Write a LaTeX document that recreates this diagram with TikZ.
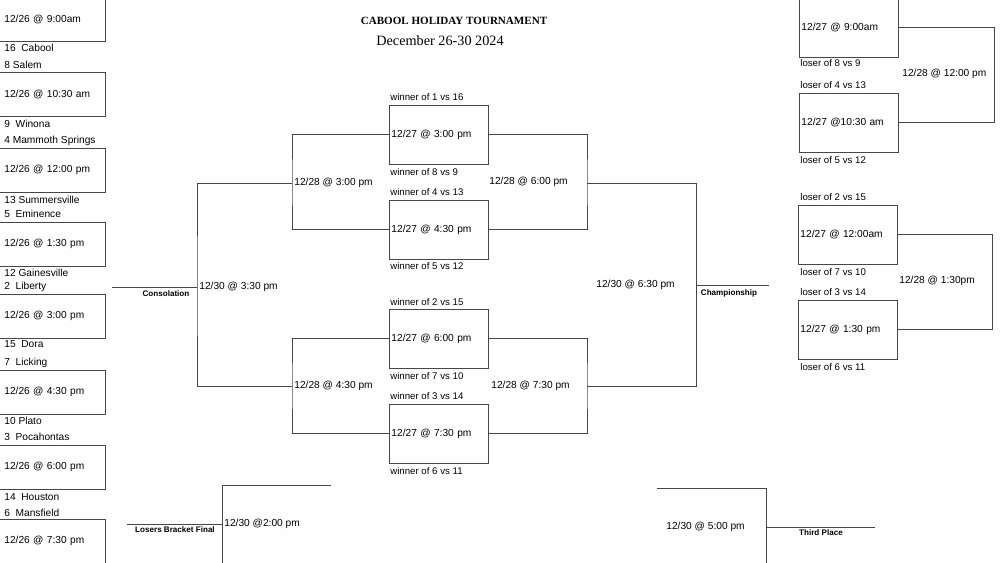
\documentclass[tikz,border=0pt]{standalone}
\usepackage{fontspec}
\setmainfont{Liberation Sans}
\newfontfamily\headfont{Liberation Serif}
\usepackage{tikz}
\usetikzlibrary{positioning}

\begin{document}
\begin{tikzpicture}[
    x=0.02cm, y=-0.02cm,
    every node/.style={inner sep=0pt, font=\fontsize{5.8}{7}\selectfont},
    line/.style={draw=black!72, line width=0.5pt},
    game/.style={line, rectangle, anchor=north west, minimum height=1.18cm, text width=1.9cm, inner xsep=0.04cm, align=left},
    seed/.style={rectangle, anchor=north west, minimum height=0.88cm, text width=1.94cm, inner xsep=0.08cm, align=left},
    team/.style={anchor=west},
    note/.style={anchor=west, font=\fontsize{5.5}{6.5}\selectfont},
    slot/.style={anchor=west, inner xsep=0.04cm},
    tag/.style={anchor=north, font=\bfseries\fontsize{4.6}{5.5}\selectfont}
]
\useasboundingbox (0,0) rectangle (1000,563);

% title
\node[font=\headfont\bfseries\fontsize{6.3}{7.5}\selectfont] (title) at (454,21) {CABOOL HOLIDAY TOURNAMENT};
\node[font=\headfont\fontsize{8.1}{9.5}\selectfont] (dates) at (440,41) {December 26-30 2024};

% first round
\node[seed] (g1) at (0,-3) {12/26 @ 9:00am};
\node[seed] (g2) at (0,72) {12/26 @ 10:30 am};
\node[seed] (g3) at (0,148) {12/26 @ 12:00 pm};
\node[seed] (g4) at (0,222) {12/26 @ 1:30 pm};
\node[seed] (g5) at (0,294) {12/26 @ 3:00 pm};
\node[seed] (g6) at (0,370) {12/26 @ 4:30 pm};
\node[seed] (g7) at (0,445) {12/26 @ 6:00 pm};
\node[seed] (g8) at (0,519) {12/26 @ 7:30 pm};
\foreach \g in {g1,g2,g3,g4,g5,g6,g7,g8}
    \draw[line] (\g.north west) -- (\g.north east) -- (\g.south east) -- (\g.south west);

\node[team] (t16) at (4,48) {16\ \ Cabool};
\node[team] (t8) at (4,65) {8 Salem};
\node[team] (t9) at (4,124) {9\ \ Winona};
\node[team] (t4) at (4,141) {4 Mammoth Springs};
\node[team] (t13) at (4,200) {13 Summersville};
\node[team] (t5) at (4,214) {5\ \ Eminence};
\node[team] (t12) at (4,273) {12 Gainesville};
\node[team] (t2) at (4,287) {2\ \ Liberty};
\node[team] (t15) at (4,344) {15\ \ Dora};
\node[team] (t7) at (4,363) {7\ \ Licking};
\node[team] (t10) at (4,421) {10 Plato};
\node[team] (t3) at (4,437) {3\ \ Pocahontas};
\node[team] (t14) at (4,497) {14\ \ Houston};
\node[team] (t6) at (4,513) {6\ \ Mansfield};

% quarterfinals
\node[game] (q1) at (389,105) {12/27 @ 3:00 pm};
\node[game] (q2) at (389,200) {12/27 @ 4:30 pm};
\node[game] (q3) at (389,309) {12/27 @ 6:00 pm};
\node[game] (q4) at (389,404) {12/27 @ 7:30 pm};

\node[note] (w1) at (390,97) {winner of 1 vs 16};
\node[note] (w2) at (390,172) {winner of 8 vs 9};
\node[note] (w3) at (390,192) {winner of 4 vs 13};
\node[note] (w4) at (390,266) {winner of 5 vs 12};
\node[note] (w5) at (390,302) {winner of 2 vs 15};
\node[note] (w6) at (390,376) {winner of 7 vs 10};
\node[note] (w7) at (390,396) {winner of 3 vs 14};
\node[note] (w8) at (390,471) {winner of 6 vs 11};

% bracket joints
\coordinate (j1) at (292,183);
\coordinate (j2) at (292,386);
\coordinate (j3) at (587,183);
\coordinate (j4) at (587,386);
\coordinate (jc) at (197,287);
\coordinate (jf) at (696,285);
\coordinate (consEnd) at (112,287);
\coordinate (champEnd) at (769,285);

\draw[line] (q1.west) -| (j1) |- (q2.west);
\draw[line] (q1.east) -| (j3) |- (q2.east);
\draw[line] (q3.west) -| (j2) |- (q4.west);
\draw[line] (q3.east) -| (j4) |- (q4.east);
\draw[line] (j1) -| (jc) |- (j2);
\draw[line] (j3) -| (jf) |- (j4);
\draw[line] (consEnd) -- (jc);
\draw[line] (jf) -- (champEnd);

\node[slot] (s1) at (j1) {12/28 @ 3:00 pm};
\node[slot] (s2) at (j2) {12/28 @ 4:30 pm};
\node[slot] (s3) at (487,182) {12/28 @ 6:00 pm};
\node[slot] (s4) at (489,386) {12/28 @ 7:30 pm};
\node[slot] (sc) at (jc) {12/30 @ 3:30 pm};
\node[slot] (sf) at (594,285) {12/30 @ 6:30 pm};
\node[tag] (consTag) at (166,290) {Consolation};
\node[tag] (champTag) at (729,289) {Championship};

% losers bracket
\node[game] (c1) at (799,-2) {12/27 @ 9:00am};
\node[game] (c2) at (799,93) {12/27 @10:30 am};
\node[game] (c3) at (798,205) {12/27 @ 12:00am};
\node[game] (c4) at (798,300) {12/27 @ 1:30 pm};

\node[note] (l1) at (800,63) {loser of 8 vs 9};
\node[note] (l2) at (800,85) {loser of 4 vs 13};
\node[note] (l3) at (800,160) {loser of 5 vs 12};
\node[note] (l4) at (800,197) {loser of 2 vs 15};
\node[note] (l5) at (800,272) {loser of 7 vs 10};
\node[note] (l6) at (800,292) {loser of 3 vs 14};
\node[note] (l7) at (800,367) {loser of 6 vs 11};

\coordinate (k1) at (994,75);
\coordinate (k2) at (992,282);
\draw[line] (c1.east) -| (k1) |- (c2.east);
\draw[line] (c3.east) -| (k2) |- (c4.east);
\node[slot] (r1) at (900,74) {12/28 @ 12:00 pm};
\node[slot] (r2) at (897,281) {12/28 @ 1:30pm};

% finals at the bottom
\coordinate (lbJoin) at (222,524);
\coordinate (lbTop) at (331,485);
\coordinate (lbLow) at (222,563);
\coordinate (lbEnd) at (127,524);
\draw[line] (lbTop) -| (lbLow);
\draw[line] (lbEnd) -- (lbJoin);
\node[slot] (lbf) at (lbJoin) {12/30 @2:00 pm};
\node[tag] (lbTag) at (175,526) {Losers Bracket Final};

\coordinate (tpJoin) at (766,527);
\coordinate (tpTop) at (657,488);
\coordinate (tpLow) at (766,563);
\coordinate (tpEnd) at (875,527);
\draw[line] (tpTop) -| (tpLow);
\draw[line] (tpJoin) -- (tpEnd);
\node[slot] (tp) at (664,527) {12/30 @ 5:00 pm};
\node[tag] (tpTag) at (821,529) {Third Place};
\end{tikzpicture}
\end{document}
